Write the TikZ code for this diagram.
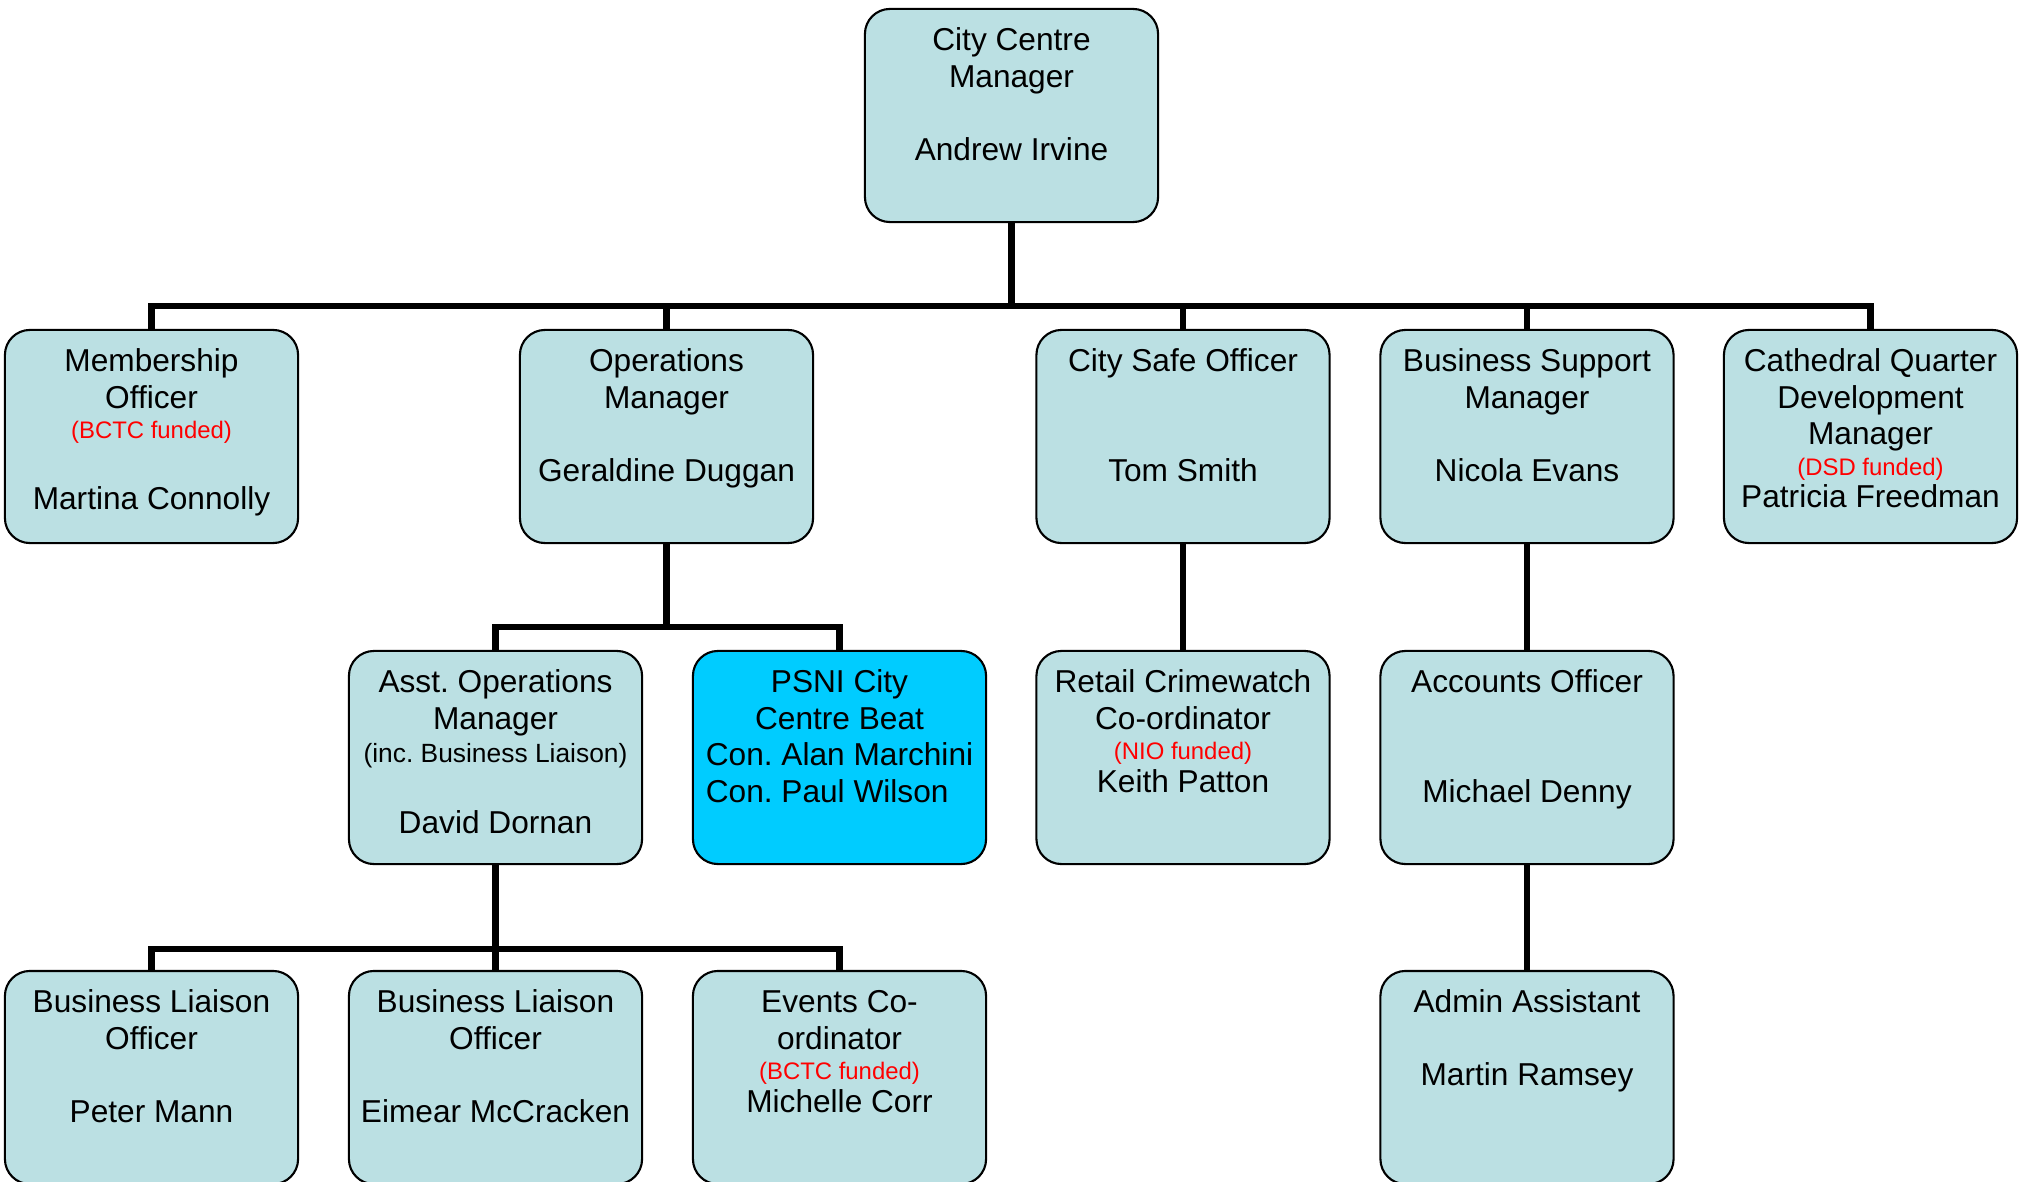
\documentclass[tikz,border=0pt]{standalone}
\usepackage{fontspec}
\setmainfont{Liberation Sans}
\definecolor{boxfill}{HTML}{BBE0E3}
\definecolor{psnifill}{HTML}{00CCFF}
\newcommand{\bxt}[1]{\parbox[c][2.13cm][t]{2.93cm}{\centering\frenchspacing\fontsize{9pt}{10.4pt}\selectfont\rule{0pt}{11.8pt}#1}}
\newcommand{\fund}[1]{{\fontsize{6.8pt}{8pt}\selectfont\color{red}#1}}
\newcommand{\smallnote}[1]{{\fontsize{7.5pt}{9pt}\selectfont #1}}
\tikzset{
  box/.style={draw=black, line width=0.6pt, fill=boxfill, rounded corners=0.25cm, inner sep=0pt, outer sep=0pt},
  psnibox/.style={box, fill=psnifill},
  conn/.style={draw=black, line width=1.9pt}
}
\begin{document}
\begin{tikzpicture}[x=0.01cm, y=-0.01cm]
\useasboundingbox (0,0) rectangle (2024,1182);
% top
\node[box] (ccm) at (1011.5,115.5) {\bxt{City Centre\\Manager\\[\baselineskip]Andrew Irvine}};
% row 2
\node[box] (memb) at (151.5,436.5) {\bxt{Membership\\Officer\\[-1.7pt]\fund{(BCTC funded)}\\[9.8pt]Martina Connolly}};
\node[box] (ops) at (666.5,436.5) {\bxt{Operations\\Manager\\[\baselineskip]Geraldine Duggan}};
\node[box] (safe) at (1183,436.5) {\bxt{City Safe Officer\\[2\baselineskip]Tom Smith}};
\node[box] (bsm) at (1527,436.5) {\bxt{Business Support\\Manager\\[\baselineskip]Nicola Evans}};
\node[box] (cqm) at (1870.5,436.5) {\bxt{Cathedral Quarter\\Development\\Manager\\[-1.7pt]\fund{(DSD funded)}\\[-1.1pt]Patricia Freedman}};
% row 3
\node[box] (asst) at (495.5,757.5) {\bxt{Asst. Operations\\Manager\\[-0.9pt]\smallnote{(inc. Business Liaison)}\\[9.8pt]David Dornan}};
\node[psnibox] (psni) at (839.5,757.5) {\bxt{PSNI City\\Centre Beat\\Con. Alan Marchini\\\leavevmode\rlap{Con. Paul Wilson}\phantom{Con. Alan Marchini}}};
\node[box] (retail) at (1183,757.5) {\bxt{Retail Crimewatch\\Co-ordinator\\[-1.7pt]\fund{(NIO funded)}\\[-1.1pt]Keith Patton}};
\node[box] (acc) at (1527,757.5) {\bxt{Accounts Officer\\[2\baselineskip]Michael Denny}};
% row 4
\node[box] (blo1) at (151.5,1077.5) {\bxt{Business Liaison\\Officer\\[\baselineskip]Peter Mann}};
\node[box] (blo2) at (495.5,1077.5) {\bxt{Business Liaison\\Officer\\[\baselineskip]Eimear McCracken}};
\node[box] (events) at (839.5,1077.5) {\bxt{Events Co-\\ordinator\\[-1.7pt]\fund{(BCTC funded)}\\[-1.1pt]Michelle Corr}};
\node[box] (admin) at (1527,1077.5) {\bxt{Admin Assistant\\[\baselineskip]Martin Ramsey}};
% connectors
\coordinate (j1) at (ccm.south |- 0,306);
\coordinate (j2) at (ops.south |- 0,627);
\coordinate (j3) at (asst.south |- 0,949);
\draw[conn] (ccm.south) -- (j1);
\foreach \n in {memb,ops,safe,bsm,cqm} \draw[conn] (j1) -| (\n.north);
\draw[conn] (ops.south) -- (j2);
\foreach \n in {asst,psni} \draw[conn] (j2) -| (\n.north);
\draw[conn] (asst.south) -- (j3);
\foreach \n in {blo1,blo2,events} \draw[conn] (j3) -| (\n.north);
\draw[conn] (safe.south) -- (retail.north);
\draw[conn] (bsm.south) -- (acc.north);
\draw[conn] (acc.south) -- (admin.north);
\end{tikzpicture}
\end{document}
